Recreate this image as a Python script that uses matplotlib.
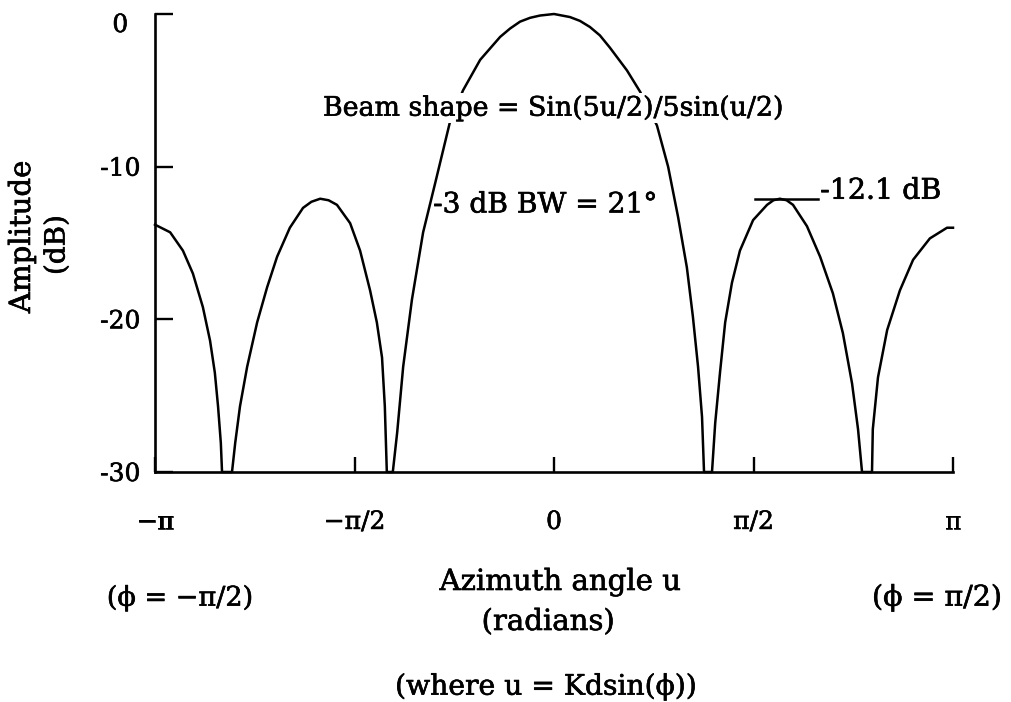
import numpy as np
import matplotlib
matplotlib.use("Agg")
import matplotlib.pyplot as plt
import matplotlib.patheffects as pe
from matplotlib.text import Text

# beam pattern samples: azimuth u (in units of pi) and amplitude (dB), floored at -30 dB
u_pi = [-1.000, -0.962, -0.930, -0.905, -0.880, -0.862, -0.850, -0.842, -0.835, -0.832,
        -0.807, -0.799, -0.787, -0.769, -0.744, -0.719, -0.694, -0.662, -0.629, -0.608,
        -0.586, -0.565, -0.544, -0.511, -0.486, -0.461, -0.444, -0.431, -0.424, -0.419,
        -0.404, -0.393, -0.378, -0.356, -0.328, -0.298, -0.261, -0.228, -0.185, -0.135,
        -0.110, -0.085, -0.060, -0.035, 0.000, 0.040, 0.065, 0.090, 0.115, 0.140, 0.183,
        0.216, 0.258, 0.286, 0.311, 0.333, 0.348, 0.361, 0.371, 0.376,
        0.396, 0.404, 0.416, 0.429, 0.446, 0.466, 0.499, 0.534, 0.550, 0.566, 0.583,
        0.599, 0.634, 0.667, 0.699, 0.724, 0.747, 0.762, 0.772,
        0.797, 0.799, 0.812, 0.835, 0.867, 0.900, 0.942, 0.985, 1.000]
gain_db = [-13.8, -14.3, -15.5, -17.0, -19.2, -21.4, -23.5, -25.7, -28.1, -30.0,
           -30.0, -28.1, -25.7, -23.1, -20.2, -17.9, -15.9, -14.0, -12.7, -12.3,
           -12.1, -12.2, -12.5, -13.7, -15.5, -18.1, -20.2, -22.5, -25.7, -30.0,
           -30.0, -27.4, -23.1, -18.7, -14.3, -11.1, -7.1, -5.0, -3.0, -1.5,
           -0.95, -0.5, -0.25, -0.1, 0.0, -0.2, -0.45, -0.85, -1.4, -2.2, -3.7,
           -5.1, -7.3, -10.0, -13.3, -16.6, -19.8, -23.1, -26.4, -30.0,
           -30.0, -26.8, -23.5, -20.2, -17.6, -15.5, -13.5, -12.5, -12.2, -12.1, -12.2,
           -12.5, -13.9, -15.9, -18.3, -20.9, -24.2, -27.2, -30.0,
           -30.0, -27.2, -23.8, -20.7, -18.1, -16.1, -14.7, -14.0, -14.0]

sidelobe_db = -12.1
sidelobe_span_pi = [0.504, 0.662]

xtick_pi = [-1.0, -0.5, 0.0, 0.5, 1.0]
xtick_labels = ["\u2212\u03c0", "\u2212\u03c0/2", "0", "\u03c0/2", "\u03c0"]
ytick_vals = [0, -10, -20, -30]
ytick_labels = ["0", "-10", "-20", "-30"]

plt.rcParams["font.family"] = "DejaVu Serif"

W, H = 1011, 702
fig = plt.figure(figsize=(W / 100, H / 100), dpi=100, facecolor="white")
ax = fig.add_axes([155 / W, 1 - 472 / H, (953 - 155) / W, (472 - 14) / H])

u = np.array(u_pi) * np.pi
ax.plot(u, gain_db, color="black", lw=1.8, clip_on=False, zorder=2,
        solid_joinstyle="round")

# marker for the first sidelobe level
ax.plot(np.array(sidelobe_span_pi) * np.pi, [sidelobe_db, sidelobe_db],
        color="black", lw=1.8, zorder=2)
ax.text(0.667 * np.pi, sidelobe_db, f"{sidelobe_db} dB", fontsize=20.5,
        ha="left", va="baseline")

ax.set_xlim(-np.pi, np.pi)
ax.set_ylim(-30, 0)
for side in ["top", "right"]:
    ax.spines[side].set_visible(False)
for side in ["left", "bottom"]:
    ax.spines[side].set_linewidth(1.9)

ax.set_xticks(np.array(xtick_pi) * np.pi)
ax.set_xticklabels(xtick_labels, fontsize=18)
ax.set_yticks(ytick_vals)
ax.set_yticklabels(ytick_labels, fontsize=18, ha="center")
ax.get_yticklabels()[0].set_va("top")
ax.tick_params(axis="x", direction="in", length=11, width=1.7, pad=28)
ax.tick_params(axis="y", direction="in", length=13, width=1.7, pad=25)

# annotations inside the plot
fig.text(553 / W, 1 - 108 / H, "Beam shape = Sin(5u/2)/5sin(u/2)", fontsize=19.3,
         ha="center", va="center",
         bbox=dict(facecolor="white", edgecolor="none", pad=1.0), zorder=5)
fig.text(545 / W, 1 - 205 / H, "-3 dB BW = 21\u00b0", fontsize=20.2,
         ha="center", va="center")

# axis titles and notes
fig.text(22 / W, 1 - 237 / H, "Amplitude", fontsize=21, rotation=90,
         ha="center", va="center")
fig.text(57 / W, 1 - 245 / H, "(dB)", fontsize=20, rotation=90,
         ha="center", va="center")
fig.text(560 / W, 1 - 582 / H, "Azimuth angle u", fontsize=21, ha="center", va="center")
fig.text(548 / W, 1 - 622 / H, "(radians)", fontsize=21, ha="center", va="center")
fig.text(546 / W, 1 - 687 / H, "(where u = Kdsin(\u03d5))", fontsize=20.3,
         ha="center", va="center")
fig.text(180 / W, 1 - 598 / H, "(\u03d5 = \u2212\u03c0/2)", fontsize=19.5,
         ha="center", va="center")
fig.text(937 / W, 1 - 598 / H, "(\u03d5 = \u03c0/2)", fontsize=20.5,
         ha="center", va="center")

# slightly heavier type, like the printed original
for t in fig.findobj(Text):
    t.set_path_effects([pe.withStroke(linewidth=0.45, foreground="black")])

fig.savefig("out.png", dpi=100, facecolor="white")
